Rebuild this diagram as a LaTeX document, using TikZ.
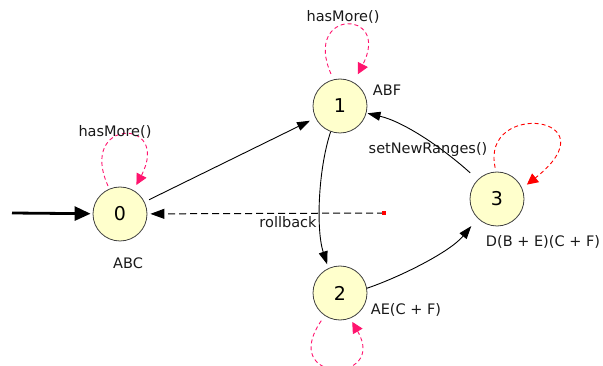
\documentclass[tikz,border=0pt]{standalone}
\usepackage{fontspec}
\setmainfont{DejaVu Sans}
\usetikzlibrary{arrows.meta}

\definecolor{statefill}{RGB}{255,255,204}
\definecolor{loopred}{RGB}{255,0,0}
\definecolor{looppink}{RGB}{255,20,110}

\begin{document}
\begin{tikzpicture}[x=1pt, y=-1pt,
    state/.style={circle, draw=black!75, fill=statefill, line width=0.8pt,
        minimum size=54pt, inner sep=0pt, font=\fontsize{19}{19}\selectfont},
    trans/.style={line width=0.9pt, -{Triangle[length=13pt,width=9pt]}},
    selfloop/.style={line width=0.9pt, dash pattern=on 4pt off 3pt,
        -{Triangle[length=11pt,width=11pt]}},
    lbl/.style={font=\fontsize{14.5}{16}\selectfont, text=black!90}]
    \useasboundingbox (0,0) rectangle (603,366);

    % States
    \node[state] (s0) at (120,214) {0};
    \node[state] (s1) at (340,106) {1};
    \node[state] (s2) at (340,293) {2};
    \node[state] (s3) at (497,199) {3};

    % Start arrow
    \coordinate (start) at (12,213);
    \draw[line width=2.8pt, shorten >=2pt, -{Triangle[length=16pt,width=14pt]}] (start) -- (s0);

    % Transitions
    \draw[trans, shorten <=5pt, shorten >=6pt] (s0) -- (s1);
    \draw[trans, shorten >=4pt] (s1.250) .. controls (318,170) and (316,230) .. (s2.115);
    \draw[trans, shorten >=10pt] (s2.10) .. controls (400,277) and (450,252) .. (s3.225);
    \draw[trans, shorten <=10pt, shorten >=1pt] (s3.135) .. controls (445,150) and (405,122) .. (s1.345);

    % Rollback
    \coordinate (rb) at (384,213);
    \draw[line width=1pt, dash pattern=on 7pt off 4pt, shorten >=3pt,
        -{Triangle[length=14pt,width=10pt]}] (rb) -- (s0);
    \fill[loopred] (rb) +(-1.8,-1.8) rectangle +(1.8,1.8);

    % Self loops
    \draw[selfloop, looppink, shorten <=3pt, shorten >=6pt] (s0.113) .. controls +(-32,-71) and +(38,-73) .. (s0.60);
    \draw[selfloop, looppink, shorten <=6pt, shorten >=9pt] (s1.104) .. controls +(-31,-71) and +(38,-73.6) .. (s1.60);
    \draw[selfloop, looppink, shorten <=6pt, shorten >=4pt] (s2.236) .. controls (278,384) and (388,384) .. (s2.292);
    \draw[selfloop, loopred, shorten <=4pt, shorten >=6pt] (s3.92) .. controls (480,100) and (615,115) .. (s3.23);

    % Labels
    \node[lbl] (l0) at (115,132) {hasMore()};
    \node[lbl] (l1) at (343,17) {hasMore()};
    \node[lbl] (l2) at (428,150) {setNewRanges()};
    \node[lbl] (l3) at (288,222) {rollback};
    \node[lbl] (n0) at (128,263) {ABC};
    \node[lbl] (n1) at (387,90) {ABF};
    \node[lbl] (n2) at (406,310) {AE(C + F)};
    \node[lbl] (n3) at (543,242) {D(B + E)(C + F)};
\end{tikzpicture}
\end{document}
